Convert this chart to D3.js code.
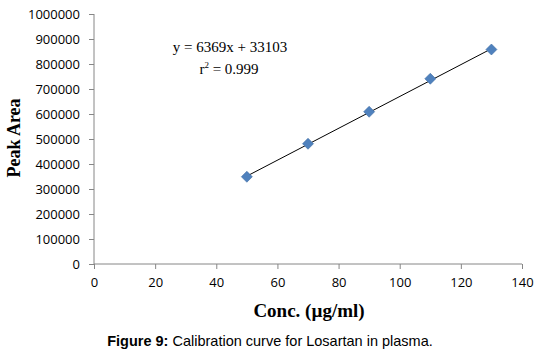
<!DOCTYPE html>
<html>
<head>
<meta charset="utf-8">
<script src="https://cdn.jsdelivr.net/npm/d3@7"></script>
<style>
  body { margin: 0; background: #fff; }
</style>
</head>
<body>
<svg id="chart" width="541" height="354"></svg>
<script>
// calibration points
let conc = [50, 70, 90, 110, 130];
let peakArea = [349000, 481000, 609000, 741000, 858000];
// fitted line
let slope = 6369;
let intercept = 33103;
let xTicks = [0, 20, 40, 60, 80, 100, 120, 140];
let yTicks = [0, 100000, 200000, 300000, 400000, 500000, 600000, 700000, 800000, 900000, 1000000];

let svg = d3.select("#chart");
let plotLeft = 94, plotRight = 522, plotTop = 14, plotBottom = 264;

var x = d3.scaleLinear().domain([0, 140]).range([plotLeft, plotRight]);
var y = d3.scaleLinear().domain([0, 1000000]).range([plotBottom, plotTop]);

let axisColor = "#868686";
let tickFont = "'Open Sans', 'Liberation Sans', sans-serif";

// x axis
let gx = svg.append("g")
    .attr("transform", "translate(0," + plotBottom + ")")
    .call(d3.axisBottom(x).tickValues(xTicks).tickSize(5).tickPadding(9).tickFormat(d3.format("d")));
gx.select(".domain").attr("stroke", axisColor).attr("d", "M" + plotLeft + ",0H" + plotRight);
gx.selectAll(".tick line").attr("stroke", axisColor);
gx.selectAll(".tick text").attr("fill", "#000").style("font-family", tickFont).style("font-size", "13px");

// y axis
let gy = svg.append("g")
    .attr("transform", "translate(" + plotLeft + ",0)")
    .call(d3.axisLeft(y).tickValues(yTicks).tickSize(5).tickPadding(9).tickFormat(d3.format("d")));
gy.select(".domain").attr("stroke", axisColor).attr("d", "M0," + plotBottom + "V" + plotTop);
gy.selectAll(".tick line").attr("stroke", axisColor);
gy.selectAll(".tick text").attr("fill", "#000").style("font-family", tickFont).style("font-size", "13px");

// trend line
svg.append("path")
    .datum([conc[0], conc[conc.length - 1]])
    .attr("fill", "none")
    .attr("stroke", "#000")
    .attr("stroke-width", 1)
    .attr("d", d3.line()
        .x(function(d) { return x(d); })
        .y(function(d) { return y(slope * d + intercept); }));

// diamonds
svg.append("g")
    .selectAll("path")
    .data(conc)
    .enter()
    .append("path")
    .attr("transform", function(d, i) { return "translate(" + x(d) + "," + y(peakArea[i]) + ")"; })
    .attr("d", "M0,-5.5L5.5,0L0,5.5L-5.5,0Z")
    .attr("fill", "#4F81BD")
    .attr("stroke", "#3F6DA5")
    .attr("stroke-width", 0.6);

// equation
let serif = "'Liberation Serif', 'Times New Roman', serif";
svg.append("text")
    .attr("x", 230).attr("y", 52)
    .attr("text-anchor", "middle")
    .style("font-family", serif).style("font-size", "15px")
    .text("y = 6369x + 33103");
let r2 = svg.append("text")
    .attr("x", 229).attr("y", 74)
    .attr("text-anchor", "middle")
    .style("font-family", serif).style("font-size", "15px");
r2.append("tspan").text("r");
r2.append("tspan").attr("dy", -6).style("font-size", "9px").text("2");
r2.append("tspan").attr("dy", 6).text(" = 0.999");

// axis titles
svg.append("text")
    .attr("transform", "translate(20," + 138 + ") rotate(-90)")
    .attr("text-anchor", "middle")
    .style("font-family", serif).style("font-size", "18px").style("font-weight", "bold")
    .text("Peak Area");

svg.append("text")
    .attr("x", 309).attr("y", 317)
    .attr("text-anchor", "middle")
    .style("font-family", serif).style("font-size", "19px").style("font-weight", "bold")
    .text("Conc. (µg/ml)");

// caption
let cap = svg.append("text")
    .attr("x", 270).attr("y", 346)
    .attr("text-anchor", "middle")
    .style("font-family", "'Liberation Sans', Arial, sans-serif").style("font-size", "14.5px");
cap.append("tspan").style("font-weight", "bold").text("Figure 9:");
cap.append("tspan").text(" Calibration curve for Losartan in plasma.");
</script>
</body>
</html>
